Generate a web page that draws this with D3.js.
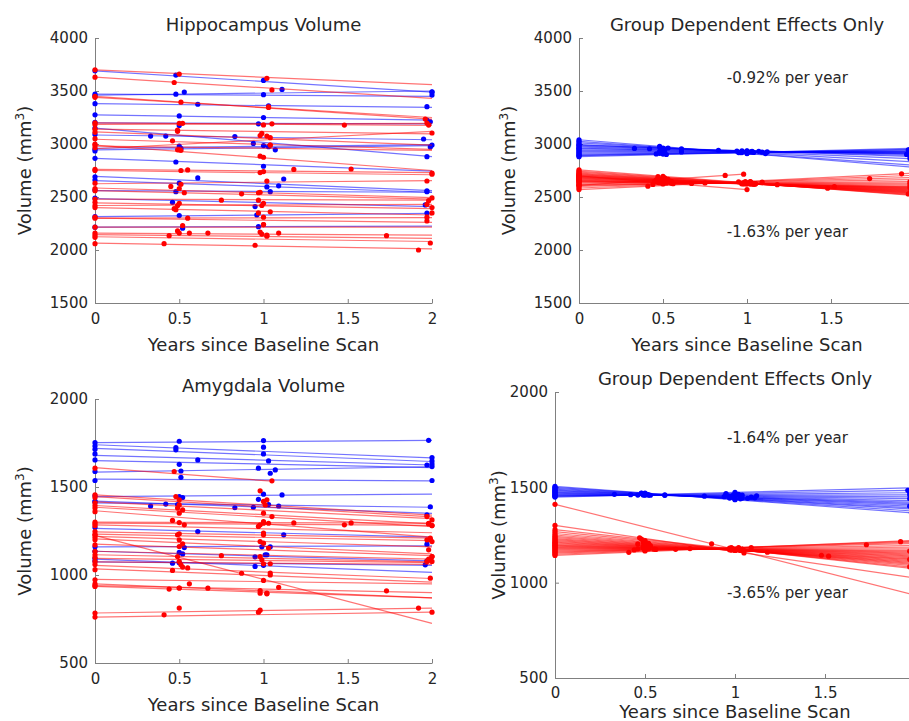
<!DOCTYPE html>
<html>
<head>
<meta charset="utf-8">
<script src="https://cdn.jsdelivr.net/npm/d3@7"></script>
<style>
  body { margin: 0; background: #fff; }
  text { font-family: "DejaVu Sans", sans-serif; fill: #262626; }
</style>
</head>
<body>
<svg id="chart" width="909" height="721"></svg>
<script>
// tick values
const yearTicks = [0, 0.5, 1, 1.5, 2];
const hippoTicks = [1500, 2000, 2500, 3000, 3500, 4000];
const amygTicks = [500, 1000, 1500, 2000];

const BLUE = '#0000ff';
const RED = '#ff0000';
const WIDTH = 909;

// ---- hippocampus, control group (blue) ----
const hippoBlueYears = [
  [0, 0.48, 1.00, 2.00], [0, 0.48, 1.00, 2.00], [0, 0.53, 1.11, 2.00],
  [0, 0.61, 1.03, 1.97], [0, 0.50, 1.00, 1.97], [0, 0.50, 0.97, 1.99],
  [0, 0.33, 0.42, 0.83, 1.95], [0, 0.94, 1.07, 1.97], [0, 0.50, 1.00, 2.00],
  [0, 0.51, 1.03, 1.99], [0, 0.48, 1.00], [0, 0.61, 1.12, 1.97],
  [0, 0.50, 1.02, 1.09], [0, 0.48, 1.04, 1.97], [0, 0.46, 0.95, 1.96],
  [0, 0.50, 0.96, 1.97], [0, 0.52, 0.97]
];
const hippoBlueVolumes = [
  [3690, 3650, 3600, 3490], [3470, 3470, 3465, 3462], [3455, 3490, 3515, 3491],
  [3380, 3375, 3360, 3352], [3275, 3265, 3250, 3226], [3205, 3175, 3190, 3210],
  [3090, 3075, 3075, 3070, 3047], [3150, 3005, 2945, 2880], [2950, 2980, 2985, 2990],
  [2935, 2960, 2975, 2972], [2865, 2830, 2790], [2690, 2680, 2670, 2557],
  [2660, 2630, 2595, 2605], [2565, 2550, 2550, 2550], [2490, 2450, 2410, 2425],
  [2315, 2325, 2330, 2349], [2215, 2205, 2220]
];
// fitted subject lines: [startYear, startVolume, endYear, endVolume]
const hippoBlueFits = [
  [0, 3690, 2, 3490], [0, 3470, 2, 3450], [0, 3460, 2, 3500], [0, 3380, 2, 3345],
  [0, 3275, 2, 3225], [0, 3200, 2, 3190], [0, 3085, 2, 3040], [0, 3150, 2, 2880],
  [0, 2960, 2, 2995], [0, 2945, 2, 2985], [0, 2865, 2, 2745], [0, 2695, 2, 2560],
  [0, 2655, 2, 2545], [0, 2560, 2, 2545], [0, 2485, 2, 2410], [0, 2315, 2, 2345],
  [0, 2215, 2, 2225]
];
// group dependent effects only
const hippoBlueGroupFits = [
  [0, 3040, 2, 2780], [0, 3025, 2, 2800], [0, 3010, 2, 2830], [0, 2995, 2, 2860],
  [0, 2990, 2, 2880], [0, 2980, 2, 2890], [0, 2970, 2, 2900], [0, 2960, 2, 2905],
  [0, 2955, 2, 2910], [0, 2945, 2, 2915], [0, 2935, 2, 2920], [0, 2925, 2, 2925],
  [0, 2915, 2, 2930], [0, 2905, 2, 2935], [0, 2895, 2, 2945], [0, 2890, 2, 2950],
  [0, 2880, 2, 2960]
];

// ---- hippocampus, patient group (red) ----
const hippoRedYears = [
  [0, 0.50, 1.02], [0, 0.47, 1.05], [0, 0.51, 1.03, 1.96], [0, 1.03],
  [0, 0.50, 1.05, 1.48, 1.98], [0, 0.52, 1.00, 1.97], [0, 0.49, 0.99, 2.00],
  [0, 0.49, 1.02, 1.04], [0, 0.46, 1.04], [0, 0.51, 0.98, 1.00], [0, 0.50, 0.98],
  [0, 0.49, 1.04], [0, 0.51, 0.55, 1.18, 1.52, 2.00], [0, 0.98, 1.00, 2.00],
  [0, 0.45, 0.51, 1.02, 1.97], [0, 0.50, 0.97, 2.00], [0, 0.53, 0.87, 0.98],
  [0, 0.75, 0.97, 1.98], [0, 0.47, 0.50, 0.99, 2.00], [0, 0.49, 1.00, 1.97],
  [0, 0.48, 0.97, 1.04, 2.00], [0, 0.55, 1.00, 1.97], [0, 1.00, 1.97],
  [0, 0.49, 0.52, 1.00], [0, 0.50, 0.56, 0.67, 0.98, 1.09], [0, 0.44, 1.02, 1.73],
  [0, 0.99, 1.02, 1.99], [0, 0.41, 0.95, 1.92]
];
const hippoRedVolumes = [
  [3700, 3660, 3620], [3630, 3580, 3510], [3450, 3395, 3345, 3236], [3440, 3350],
  [3200, 3195, 3190, 3179, 3179], [3185, 3195, 3180, 3198], [3140, 3130, 3100, 3104],
  [3110, 3120, 3075, 3060], [3050, 3030, 2990], [2990, 2940, 2885, 2875], [2965, 2945, 3080],
  [3000, 2945, 2990], [2760, 2750, 2755, 2760, 2764, 2726], [2750, 2730, 2740, 2715],
  [2630, 2600, 2620, 2650, 2651], [2580, 2580, 2540, 2491], [2560, 2540, 2530, 2545],
  [2480, 2470, 2470, 2465], [2450, 2390, 2440, 2420, 2400], [2420, 2420, 2440, 2430],
  [2400, 2380, 2350, 2360, 2350], [2300, 2300, 2310, 2310], [2310, 2240, 2274],
  [2215, 2180, 2230, 2240], [2160, 2160, 2160, 2160, 2170, 2160], [2140, 2135, 2140, 2135],
  [2120, 2150, 2130, 2066], [2060, 2060, 2045, 2000]
];
const hippoRedFits = [
  [0, 3700, 2, 3560], [0, 3630, 2, 3430], [0, 3450, 2, 3235], [0, 3440, 2, 3250],
  [0, 3200, 2, 3175], [0, 3185, 2, 3195], [0, 3140, 2, 3095], [0, 3115, 2, 2990],
  [0, 3045, 2, 2950], [0, 2990, 2, 2750], [0, 2955, 2, 3120], [0, 2980, 2, 2940],
  [0, 2760, 2, 2730], [0, 2750, 2, 2710], [0, 2625, 2, 2655], [0, 2585, 2, 2495],
  [0, 2560, 2, 2480], [0, 2480, 2, 2470], [0, 2445, 2, 2390], [0, 2420, 2, 2430],
  [0, 2400, 2, 2330], [0, 2300, 2, 2305], [0, 2300, 2, 2260], [0, 2215, 2, 2215],
  [0, 2160, 2, 2140], [0, 2145, 2, 2110], [0, 2125, 2, 2080], [0, 2065, 2, 2010]
];
const hippoRedGroupFits = [
  [0, 2756, 2, 2512], [0, 2745, 2, 2518], [0, 2735, 2, 2524], [0, 2725, 2, 2530],
  [0, 2718, 2, 2535], [0, 2712, 2, 2540], [0, 2706, 2, 2545], [0, 2700, 2, 2550],
  [0, 2695, 2, 2555], [0, 2690, 2, 2560], [0, 2685, 2, 2565], [0, 2680, 2, 2570],
  [0, 2675, 2, 2575], [0, 2670, 2, 2580], [0, 2665, 2, 2585], [0, 2660, 2, 2590],
  [0, 2610, 0.98, 2715], [0, 2655, 2, 2595], [0, 2650, 2, 2600], [0, 2645, 2, 2610],
  [0, 2640, 2, 2620], [0, 2630, 2, 2630], [0, 2620, 2, 2645], [0, 2700, 1.00, 2570],
  [0, 2610, 2, 2665], [0, 2600, 2, 2685], [0, 2585, 2, 2705], [0, 2570, 2, 2725]
];

// ---- amygdala, control group (blue) ----
const amygBlueYears = [
  [0, 0.50, 1.00, 1.98], [0, 0.48, 1.00, 2.00], [0, 0.48, 1.00, 2.00],
  [0, 0.61, 1.03, 2.00], [0, 0.50, 0.97, 1.97], [0, 0.51, 1.04, 1.07, 2.00],
  [0, 0.51, 2.00], [0, 0.50, 0.52, 1.00, 1.11], [0, 0.33, 0.42, 0.83, 0.94, 1.09, 1.99],
  [0, 0.49, 0.97, 1.03, 1.97], [0, 0.61, 1.12], [0, 0.53, 0.99, 1.04, 1.97],
  [0, 0.50, 0.52, 0.95, 1.01, 1.02, 1.97], [0, 0.46, 0.95, 1.96], [0, 0.50, 1.00]
];
const amygBlueVolumes = [
  [1752, 1760, 1764, 1765], [1733, 1724, 1726, 1667], [1714, 1711, 1688, 1648],
  [1688, 1654, 1648, 1631], [1654, 1629, 1607, 1625], [1588, 1591, 1578, 1597, 1616],
  [1537, 1555, 1537], [1450, 1446, 1440, 1459, 1455], [1415, 1392, 1403, 1382, 1385, 1392, 1387],
  [1420, 1400, 1430, 1400, 1342], [1270, 1247, 1228], [1160, 1156, 1160, 1160, 1175],
  [1135, 1128, 1120, 1103, 1115, 1115, 1080], [1080, 1067, 1049, 1058], [1095, 1070, 1055]
];
const amygBlueFits = [
  [0, 1752, 2, 1765], [0, 1740, 2, 1665], [0, 1720, 2, 1645], [0, 1680, 2, 1625],
  [0, 1650, 2, 1610], [0, 1585, 2, 1615], [0, 1545, 2, 1535], [0, 1445, 2, 1460],
  [0, 1410, 2, 1385], [0, 1420, 2, 1350], [0, 1265, 2, 1215], [0, 1160, 2, 1165],
  [0, 1135, 2, 1080], [0, 1075, 2, 1055], [0, 1090, 2, 1015]
];
const amygBlueGroupFits = [
  [0, 1505, 2, 1365], [0, 1500, 2, 1375], [0, 1495, 2, 1385], [0, 1490, 2, 1392],
  [0, 1485, 2, 1400], [0, 1482, 2, 1408], [0, 1478, 2, 1415], [0, 1474, 2, 1422],
  [0, 1470, 2, 1430], [0, 1466, 2, 1440], [0, 1462, 2, 1450], [0, 1458, 2, 1460],
  [0, 1455, 2, 1472], [0, 1452, 2, 1485], [0, 1449, 2, 1498]
];

// ---- amygdala, patient group (red) ----
const amygRedYears = [
  [0, 0.47, 1.05], [0, 0.48, 0.98, 1.02], [0, 0.50, 1.00, 1.97], [0, 0.50, 1.01, 2.00],
  [0, 0.49, 1.05, 1.98], [0, 0.52, 1.00, 2.00], [0, 0.50, 1.00, 1.99],
  [0, 0.46, 1.00, 1.18, 1.52, 1.98], [0, 0.50, 0.98, 1.48, 2.00], [0, 0.53, 0.97, 1.03, 1.97],
  [0, 0.50, 1.00, 1.99], [0, 0.49, 1.00, 2.00], [0, 0.50, 0.98, 1.98], [0, 0.52, 1.00, 2.00],
  [0, 0.87], [0, 0.50, 1.03, 2.00], [0, 0.75, 0.98, 1.99], [0, 0.49, 0.99, 2.00],
  [0, 0.50, 1.00, 1.98], [0, 0.51, 1.04, 1.97], [0, 0.46, 0.52, 1.04, 1.99],
  [0, 0.55, 1.04], [0, 0.56, 1.00], [0, 0.44, 0.50, 0.98, 1.02], [0, 0.67, 1.09, 1.73],
  [0, 0.50, 0.98, 1.02], [0, 0.50, 0.98, 1.92], [0, 0.41, 0.97, 2.00]
];
const amygRedVolumes = [
  [1607, 1588, 1535], [1455, 1446, 1478, 1427], [1440, 1427, 1418, 1332], [1410, 1398, 1398, 1313],
  [1395, 1380, 1332, 1294], [1380, 1370, 1351, 1281], [1360, 1351, 1304, 1209],
  [1300, 1310, 1294, 1296, 1296, 1290], [1290, 1298, 1285, 1285, 1281], [1280, 1285, 1276, 1294, 1200],
  [1247, 1234, 1238, 1200], [1230, 1228, 1228, 1190], [1215, 1200, 1190, 1143], [1200, 1177, 1181, 1105],
  [1228, 1010], [1171, 1162, 1153, 1105], [1134, 1110, 1105, 1086], [1115, 1105, 1086, 1077],
  [1100, 1077, 1064, 1090], [1077, 1058, 1064, 1077], [1060, 1026, 1045, 1011, 982],
  [1030, 1040, 1000], [973, 950, 969], [950, 920, 926, 912, 897], [940, 925, 930, 910],
  [935, 926, 897, 893], [784, 812, 800, 812], [761, 774, 789, 789]
];
const amygRedFits = [
  [0, 1610, 1.05, 1533], [0, 1455, 2, 1340], [0, 1445, 2, 1330], [0, 1415, 2, 1320],
  [0, 1395, 2, 1290], [0, 1385, 2, 1275], [0, 1365, 2, 1215], [0, 1300, 2, 1295],
  [0, 1295, 2, 1282], [0, 1285, 2, 1240], [0, 1245, 2, 1210], [0, 1232, 2, 1195],
  [0, 1220, 2, 1160], [0, 1205, 2, 1120], [0, 1225, 2, 725], [0, 1175, 2, 1110],
  [0, 1135, 2, 1090], [0, 1115, 2, 1075], [0, 1095, 2, 1070], [0, 1075, 2, 1060],
  [0, 1055, 2, 980], [0, 1035, 2, 960], [0, 975, 2, 950], [0, 950, 2, 870],
  [0, 940, 2, 900], [0, 935, 2, 870], [0, 784, 2, 812], [0, 761, 2, 789]
];
const amygRedGroupFits = [
  [0, 1300, 2, 1025], [0, 1278, 2, 1073], [0, 1268, 2, 1080], [0, 1258, 2, 1088],
  [0, 1250, 2, 1095], [0, 1243, 2, 1100], [0, 1237, 2, 1105], [0, 1231, 2, 1110],
  [0, 1226, 2, 1115], [0, 1221, 2, 1120], [0, 1216, 2, 1125], [0, 1212, 2, 1130],
  [0, 1208, 2, 1135], [0, 1204, 2, 1140], [0, 1411, 2, 935], [0, 1200, 2, 1145],
  [0, 1196, 2, 1150], [0, 1192, 2, 1155], [0, 1188, 2, 1160], [0, 1184, 2, 1165],
  [0, 1180, 2, 1170], [0, 1175, 2, 1178], [0, 1170, 2, 1186], [0, 1165, 2, 1195],
  [0, 1160, 2, 1205], [0, 1155, 2, 1212], [0, 1149, 2, 1218], [0, 1143, 2, 1222]
];

// annotations: [year, volume, label]
const hippoRates = [[0.88, 3580, '-0.92% per year'], [0.88, 2118, '-1.63% per year']];
const amygRates = [[0.955, 1734, '-1.64% per year'], [0.955, 921, '-3.65% per year']];

const svg = d3.select('#chart');

function drawPanel(cfg) {
  const x = d3.scaleLinear().domain([0, 2]).range([cfg.left, cfg.right]);
  const y = d3.scaleLinear().domain(cfg.yDomain).range([cfg.bottom, cfg.top]);
  const g = svg.append('g');

  // ticks past the right edge of the page are not drawn
  const xTicks = yearTicks.filter(t => x(t) <= WIDTH - 4);

  const xAxis = g.append('g')
    .attr('transform', `translate(0,${cfg.bottom})`)
    .call(d3.axisBottom(x).tickValues(xTicks).tickSizeInner(-4).tickSizeOuter(0)
      .tickPadding(cfg.xPad).tickFormat(d => String(d)));
  const yAxis = g.append('g')
    .attr('transform', `translate(${cfg.left},0)`)
    .call(d3.axisLeft(y).tickValues(cfg.yTicks).tickSizeInner(-4).tickSizeOuter(0)
      .tickPadding(7).tickFormat(d => String(d)));
  [xAxis, yAxis].forEach(a => {
    a.selectAll('path, line').attr('stroke', '#808080');
    a.selectAll('text').style('font-size', '15px').attr('fill', '#262626');
  });

  const line = d3.line().x(d => x(d[0])).y(d => y(d[1]));

  cfg.series.forEach(s => {
    const lines = g.append('g');
    s.fits.forEach((f, i) => {
      lines.append('path')
        .attr('d', line([[f[0], f[1]], [f[2], f[3]]]))
        .attr('fill', 'none')
        .attr('stroke', s.color)
        .attr('stroke-opacity', 0.55)
        .attr('stroke-width', 1.2);

      let pts;
      if (s.volumes) {
        pts = s.years[i].map((t, j) => [t, s.volumes[i][j]]);
      } else {
        // model prediction at each visit
        const fit = d3.scaleLinear().domain([f[0], f[2]]).range([f[1], f[3]]);
        pts = s.years[i].map(t => [t, fit(t)]);
      }
      lines.selectAll(null)
        .data(pts)
        .join('circle')
        .attr('cx', d => x(d[0]))
        .attr('cy', d => y(d[1]))
        .attr('r', 2.6)
        .attr('fill', s.color);
    });
  });

  (cfg.notes || []).forEach(n => {
    g.append('text')
      .attr('x', x(n[0]))
      .attr('y', y(n[1]))
      .style('font-size', '15px')
      .attr('fill', '#000')
      .text(n[2]);
  });

  g.append('text')
    .attr('x', (cfg.left + cfg.right) / 2)
    .attr('y', cfg.titleY)
    .attr('text-anchor', 'middle')
    .style('font-size', '18px')
    .attr('fill', '#000')
    .text(cfg.title);

  g.append('text')
    .attr('x', (cfg.left + cfg.right) / 2)
    .attr('y', cfg.xLabelY)
    .attr('text-anchor', 'middle')
    .style('font-size', '18px')
    .text('Years since Baseline Scan');

  const yl = g.append('text')
    .attr('transform', `translate(${cfg.yLabelX},${(cfg.top + cfg.bottom) / 2}) rotate(-90)`)
    .attr('text-anchor', 'middle')
    .style('font-size', '18px');
  yl.append('tspan').text('Volume (mm');
  yl.append('tspan').attr('dy', -7).style('font-size', '12px').text('3');
  yl.append('tspan').attr('dy', 7).text(')');
}

drawPanel({
  title: 'Hippocampus Volume', titleY: 31,
  left: 95, right: 432, top: 38, bottom: 303,
  yDomain: [1500, 4000], yTicks: hippoTicks, xPad: 10, xLabelY: 351, yLabelX: 31,
  series: [
    { color: BLUE, years: hippoBlueYears, volumes: hippoBlueVolumes, fits: hippoBlueFits },
    { color: RED, years: hippoRedYears, volumes: hippoRedVolumes, fits: hippoRedFits }
  ]
});

drawPanel({
  title: 'Group Dependent Effects Only', titleY: 31,
  left: 579, right: 915, top: 38, bottom: 303,
  yDomain: [1500, 4000], yTicks: hippoTicks, xPad: 10, xLabelY: 351, yLabelX: 515,
  series: [
    { color: BLUE, years: hippoBlueYears, volumes: null, fits: hippoBlueGroupFits },
    { color: RED, years: hippoRedYears, volumes: null, fits: hippoRedGroupFits }
  ],
  notes: hippoRates
});

drawPanel({
  title: 'Amygdala Volume', titleY: 392,
  left: 95, right: 432, top: 399, bottom: 663,
  yDomain: [500, 2000], yTicks: amygTicks, xPad: 10, xLabelY: 711, yLabelX: 31,
  series: [
    { color: BLUE, years: amygBlueYears, volumes: amygBlueVolumes, fits: amygBlueFits },
    { color: RED, years: amygRedYears, volumes: amygRedVolumes, fits: amygRedFits }
  ]
});

drawPanel({
  title: 'Group Dependent Effects Only', titleY: 385,
  left: 555, right: 915, top: 392, bottom: 678,
  yDomain: [500, 2000], yTicks: amygTicks, xPad: 9, xLabelY: 718, yLabelX: 505,
  series: [
    { color: BLUE, years: amygBlueYears, volumes: null, fits: amygBlueGroupFits },
    { color: RED, years: amygRedYears, volumes: null, fits: amygRedGroupFits }
  ],
  notes: amygRates
});
</script>
</body>
</html>
